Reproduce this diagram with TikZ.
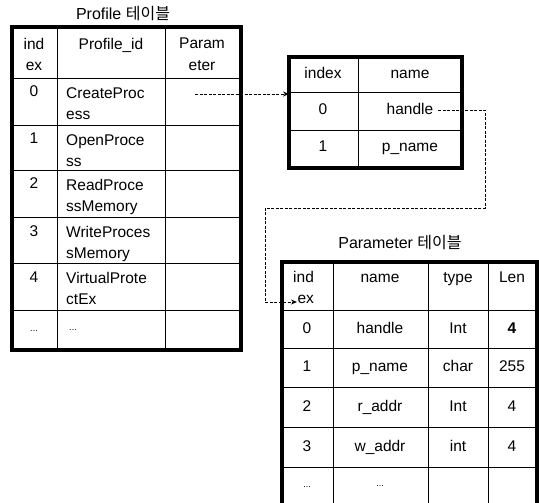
\documentclass[tikz,border=0pt]{standalone}
\usepackage{fontspec}
\setmainfont{Liberation Sans}
\newfontfamily\krfont{Noto Sans CJK KR}
\usetikzlibrary{arrows.meta}
\tikzset{
  frame/.style={line width=3.2pt},
  grid/.style={line width=0.9pt},
  cell/.style={inner sep=0pt,text height=11pt,text depth=3pt,font=\fontsize{15.5}{22}\selectfont},
  wrap/.style={inner sep=0pt,align=left,font=\fontsize{15.5}{21.5}\selectfont},
  title/.style={inner sep=0pt,font=\fontsize{16}{20}\selectfont},
  dots/.style={inner sep=0pt,font=\fontsize{9}{10}\selectfont},
  link/.style={line width=0.8pt,dash pattern=on 3pt off 1.5pt,-{Stealth[length=6pt,width=5pt]}},
}

\begin{document}
\begin{tikzpicture}[x=1pt,y=-1pt,line join=miter]
\useasboundingbox (0,0) rectangle (539,503);
\clip (0,0) rectangle (539,503);

% Profile table
\node[title] (ptitle) at (123,14) {Profile {\krfont 테이블}};
\foreach \y in {78,125,170,217,263,310} \draw[grid] (12,\y) -- (241,\y);
\draw[grid] (57,27) -- (57,350);
\draw[grid] (165,27) -- (165,350);
\draw[frame] (12,27) rectangle (241,350);
\node[wrap,align=center,anchor=north] (ph1) at (34,38) {ind\\ex};
\node[cell] (ph2) at (111,46) {Profile\_id};
\node[wrap,align=center,anchor=north] (ph3) at (202,38) {Param\\eter};
\foreach \t/\i/\name in {78/0/{CreateProc\\ess},125/1/{OpenProce\\ss},170/2/{ReadProce\\ssMemory},217/3/{WriteProces\\sMemory},263/4/{VirtualProte\\ctEx}}{
  \node[cell] (pidx\i) at (34,\t+15) {\i};
  \node[wrap,anchor=north west] (pname\i) at (66,\t+9) {\name};
}
\node[dots] (pidx5) at (34,331) {...};
\node[dots] (pname5) at (73,330) {...};

% index table
\foreach \y in {92,130} \draw[grid] (289,\y) -- (462,\y);
\draw[grid] (358,57) -- (358,168);
\draw[frame] (289,57) rectangle (462,168);
\node[cell] (ih1) at (323,75) {index};
\node[cell] (ih2) at (410,75) {name};
\node[cell] (iidx0) at (323,110) {0};
\node[cell] (handle) at (410,110) {handle};
\node[cell] (iidx1) at (323,148) {1};
\node[cell] (iname1) at (410,148) {p\_name};

% Parameter table
\node[title] (qtitle) at (400,243) {Parameter {\krfont 테이블}};
\foreach \y in {310,348,387,427,467} \draw[grid] (282,\y) -- (537,\y);
\foreach \x in {333,428,488} \draw[grid] (\x,262) -- (\x,510);
\draw[frame] (282,262) rectangle (537,510);
\node[wrap,anchor=north west] (qh1) at (293,271) {ind\\\ ex};
\node[cell] (qh2) at (380,278) {name};
\node[cell] (qh3) at (458,278) {type};
\node[cell] (qh4) at (512,278) {Len};
\foreach \i/\yc/\name/\type/\len in {0/329/handle/Int/\textbf{4},1/367/p\_name/char/255,2/407/r\_addr/Int/4,3/447/w\_addr/int/4}{
  \node[cell] (qidx\i) at (307,\yc) {\i};
  \node[cell] (qname\i) at (380,\yc) {\name};
  \node[cell] (qtype\i) at (458,\yc) {\type};
  \node[cell] (qlen\i) at (512,\yc) {\len};
}
\node[dots] (qidx4) at (307,487) {...};
\node[dots] (qname4) at (380,486) {...};

% pointers
\coordinate (src1) at (195,94);
\coordinate (dst1) at (289,94);
\coordinate (dst2) at (297,302);
\draw[link] (src1) -- (dst1);
\draw[link] ([xshift=5pt]handle.east) -| (485,208) -| (265,302) -- (dst2);
\end{tikzpicture}
\end{document}
